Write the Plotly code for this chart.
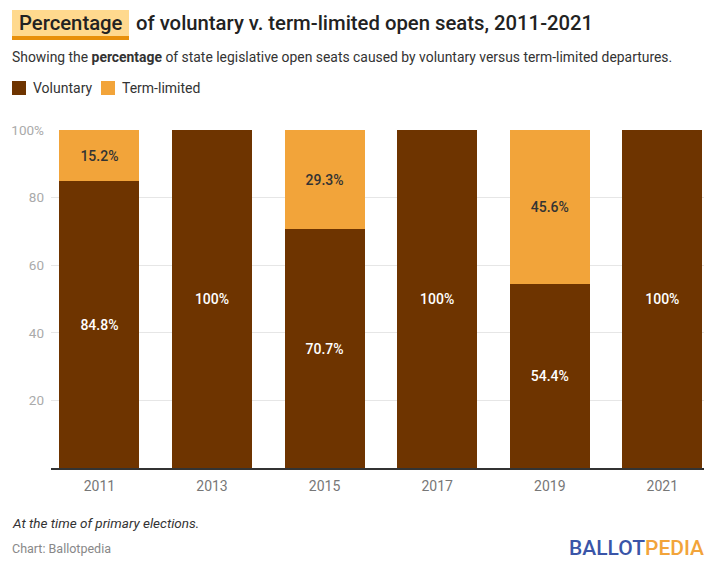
import plotly.graph_objects as go

years = ["2011", "2013", "2015", "2017", "2019", "2021"]
voluntary = [84.8, 100, 70.7, 100, 54.4, 100]
term_limited = [15.2, 0, 29.3, 0, 45.6, 0]
y_ticks = [0, 20, 40, 60, 80, 100]
y_tick_labels = ["", "20", "40", "60", "80", "100%"]

C_VOL = "#6e3400"
C_TERM = "#f2a43a"
FONT = "Roboto"

W, H = 720, 575
L, R, T, B = 51, 16, 130, 107
PW = W - L - R
PH = H - T - B


def px(x):
    return (x - L) / PW


def py(y):
    return (H - B - y) / PH


def lbl(vals):
    return [f"{v:g}%" if v > 0 else "" for v in vals]


fig = go.Figure()
fig.add_trace(go.Bar(
    x=years, y=voluntary, name="Voluntary", marker_color=C_VOL,
    marker_line_width=0,
    text=lbl(voluntary), textposition="inside", insidetextanchor="middle",
    textangle=0, constraintext="none",
    textfont=dict(family=FONT, size=14, color="white", weight=500),
    hoverinfo="x+y",
))
fig.add_trace(go.Bar(
    x=years, y=term_limited, name="Term-limited", marker_color=C_TERM,
    marker_line_width=0,
    text=lbl(term_limited), textposition="inside", insidetextanchor="middle",
    textangle=0, constraintext="none",
    textfont=dict(family=FONT, size=14, color="#333333", weight=500),
    hoverinfo="x+y",
))

shapes = [
    # title highlight
    dict(type="rect", xref="paper", yref="paper", x0=px(12), x1=px(129), y0=py(36), y1=py(10),
         fillcolor="#ffd98e", line_width=0, layer="below"),
    dict(type="rect", xref="paper", yref="paper", x0=px(12), x1=px(129), y0=py(40), y1=py(36),
         fillcolor="#e8900a", line_width=0, layer="below"),
    # legend swatches
    dict(type="rect", xref="paper", yref="paper", x0=px(12), x1=px(26), y0=py(95), y1=py(81),
         fillcolor=C_VOL, line_width=0),
    dict(type="rect", xref="paper", yref="paper", x0=px(101), x1=px(115), y0=py(95), y1=py(81),
         fillcolor=C_TERM, line_width=0),
]

annotations = [
    dict(text="Percentage", x=px(17), y=py(23), xanchor="left", yanchor="middle",
         font=dict(family=FONT, size=20.3, color="#222222", weight=500)),
    dict(text="of voluntary v. term-limited open seats, 2011-2021", x=px(134), y=py(23),
         xanchor="left", yanchor="middle",
         font=dict(family=FONT, size=20.3, color="#222222", weight=500)),
    dict(text="Showing the <b>percentage</b> of state legislative open seats caused by voluntary versus term-limited departures.",
         x=px(10), y=py(57), xanchor="left", yanchor="middle",
         font=dict(family=FONT, size=13.9, color="#333333")),
    dict(text="Voluntary", x=px(31), y=py(88), xanchor="left", yanchor="middle",
         font=dict(family=FONT, size=14, color="#333333")),
    dict(text="Term-limited", x=px(120), y=py(88), xanchor="left", yanchor="middle",
         font=dict(family=FONT, size=14, color="#333333")),
    dict(text="<i>At the time of primary elections.</i>", x=px(10), y=py(523), xanchor="left",
         yanchor="middle", font=dict(family=FONT, size=13.5, color="#333333")),
    dict(text="Chart: Ballotpedia", x=px(10), y=py(548), xanchor="left", yanchor="middle",
         font=dict(family=FONT, size=12.5, color="#888888")),
    dict(text="<span style='color:#3a55a8'>BALLOT</span><span style='color:#f2a43a'>PEDIA</span>",
         x=px(706), y=py(548), xanchor="right", yanchor="middle",
         font=dict(family=FONT, size=21, color="#3a55a8", weight=500)),
]
for a in annotations:
    a.update(xref="paper", yref="paper", showarrow=False)

fig.update_layout(
    width=W, height=H,
    margin=dict(l=L, r=R, t=T, b=B, pad=0),
    barmode="stack", bargap=0.29,
    showlegend=False,
    plot_bgcolor="white", paper_bgcolor="white",
    font=dict(family=FONT),
    shapes=shapes, annotations=annotations,
    xaxis=dict(
        type="category", range=[-0.43, 5.37],
        showgrid=False, showline=True, linecolor="#333333", linewidth=1.5,
        ticks="", tickfont=dict(family=FONT, size=14, color="#777777"),
        ticklabelstandoff=4,
    ),
    yaxis=dict(
        range=[0, 100], tickvals=y_ticks, ticktext=y_tick_labels,
        showgrid=True, gridcolor="#e6e6e6", gridwidth=1, zeroline=False,
        showline=False, ticks="", ticklabelstandoff=6,
        tickfont=dict(family=FONT, size=13.5, color="#aaaaaa"),
    ),
)

fig.write_html("out.html")
